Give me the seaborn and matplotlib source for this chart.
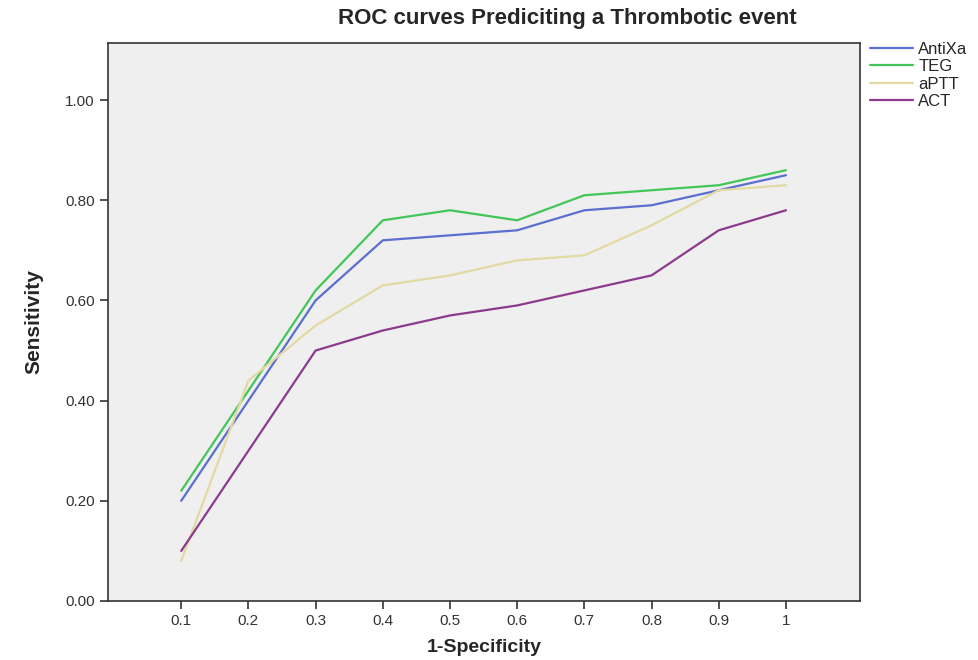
import pandas as pd
import seaborn as sns
import matplotlib.pyplot as plt

# Data
spec = [0.1, 0.2, 0.3, 0.4, 0.5, 0.6, 0.7, 0.8, 0.9, 1.0]
tick_labels = ["0.1", "0.2", "0.3", "0.4", "0.5", "0.6", "0.7", "0.8", "0.9", "1"]
antixa = [0.20, 0.40, 0.60, 0.72, 0.73, 0.74, 0.78, 0.79, 0.82, 0.85]
teg = [0.22, 0.42, 0.62, 0.76, 0.78, 0.76, 0.81, 0.82, 0.83, 0.86]
aptt = [0.08, 0.44, 0.55, 0.63, 0.65, 0.68, 0.69, 0.75, 0.82, 0.83]
act = [0.10, 0.30, 0.50, 0.54, 0.57, 0.59, 0.62, 0.65, 0.74, 0.78]
tests = ["AntiXa", "TEG", "aPTT", "ACT"]
colors = ["#5a6fcf", "#43c659", "#e2d9a3", "#8c3b8c"]

data = pd.DataFrame({
    "x": spec * 4,
    "y": antixa + teg + aptt + act,
    "test": [t for t in tests for _ in spec],
})

sns.set_style("ticks")
plt.rcParams["font.family"] = ["Liberation Sans", "DejaVu Sans"]

fig = plt.figure(figsize=(9.79, 6.6), dpi=100)
ax = fig.add_axes([0.1103, 0.0894, 0.768, 0.8455])
ax.set_facecolor("#efefef")

sns.lineplot(data=data, x="x", y="y", hue="test", hue_order=tests,
             palette=colors, linewidth=1.6, ax=ax)

ax.set_xlim(-0.009, 1.11)
ax.set_ylim(0, 1.114)
ax.set_xticks(spec)
ax.set_xticklabels(tick_labels, fontsize=11, color="#333333")
ax.set_yticks([0, 0.2, 0.4, 0.6, 0.8, 1.0])
ax.set_yticklabels(["0.00", "0.20", "0.40", "0.60", "0.80", "1.00"],
                   fontsize=11, color="#333333")
ax.tick_params(axis="both", length=6, width=1.2, color="#333333")
for s in ax.spines.values():
    s.set_linewidth(1.2)
    s.set_color("#333333")

ax.set_xlabel("1-Specificity", fontsize=14, fontweight="bold", labelpad=8)
ax.set_ylabel("Sensitivity", fontsize=15, fontweight="bold", labelpad=16)
fig.text(0.579, 0.972, "ROC curves Prediciting a Thrombotic event",
         ha="center", va="center", fontsize=16, fontweight="bold")

ax.legend(loc="upper left", bbox_to_anchor=(1.0, 1.02), frameon=False,
          fontsize=12, handlelength=2.6, handletextpad=0.3,
          labelspacing=0.15, borderaxespad=0.2)

fig.savefig("out.png", dpi=100)
